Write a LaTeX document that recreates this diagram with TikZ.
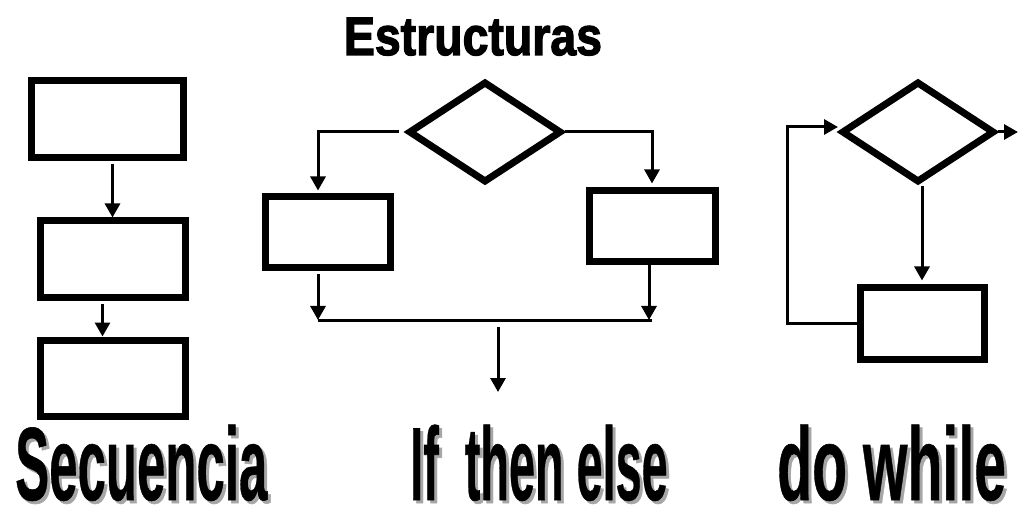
\documentclass[tikz,border=0pt]{standalone}
\usepackage{fontspec}
\setmainfont{Liberation Sans}
\newfontfamily\heavyfont[FakeBold=2.5]{Liberation Sans Bold}
\newfontfamily\lblheavy[FakeBold=0.6]{Liberation Sans Bold}
\usetikzlibrary{shapes.geometric,arrows.meta}
\newcommand{\headfont}{\heavyfont\fontsize{54}{58}\selectfont}
\newcommand{\lblfont}{\lblheavy\fontsize{104}{110}\selectfont}
\begin{document}
\begin{tikzpicture}[x=1pt, y=-1pt,
		block/.style={draw=black, line width=7pt, minimum width=#1, minimum height=71pt, inner sep=0pt},
		decision/.style={diamond, draw=black, line width=7pt, minimum width=153pt, minimum height=101pt, inner sep=0pt},
		arr/.style={draw=black, line width=3pt, -{Triangle[length=14pt,width=15pt]}},
		link/.style={draw=black, line width=3pt},
		lbl/.style={black, anchor=base west, inner sep=0pt, text depth=0pt, font=\lblfont},
		lblshadow/.style={lbl, text=black!35}]
		\useasboundingbox (0,0) rectangle (1019,510);
		\node[black, anchor=base, inner sep=0pt, font=\headfont] (title) at (473,55) {\scalebox{0.86}[1]{Estructuras}};
		\node[block=152pt, minimum height=77pt] (seq1) at (107,119.5) {};
		\node[block=145pt, minimum height=77pt] (seq2) at (112.5,259.5) {};
		\node[block=145pt, minimum height=76pt] (seq3) at (112.5,378) {};
		\draw[arr, shorten <=3pt] (seq1.south -| seq2.north) -- (seq2.north);
		\draw[arr, shorten <=3pt] ([xshift=-10pt]seq2.south) -- ([xshift=-10pt]seq3.north);
		\node[decision] (ite) at (485,132) {};
		\node[block=125pt] (opta) at (327.5,232.5) {};
		\node[block=126pt] (optb) at (652,226.5) {};
		\coordinate (merge) at (485,320);
		\coordinate (exit) at (498,392);
		\draw[arr] ([xshift=-6pt]ite.west) -| ([xshift=-9.5pt,yshift=3pt]opta.north);
		\draw[arr] (ite.east) -| ([yshift=4pt]optb.north);
		\draw[arr, shorten <=3pt] ([xshift=-9.5pt]opta.south) -- ([xshift=-9.5pt]opta.south |- merge);
		\draw[arr] ([xshift=-3pt]optb.south) -- ([xshift=-3pt]optb.south |- merge);
		\draw[link] ([xshift=-9.5pt]opta.south |- merge) -- (optb.south |- merge);
		\draw[arr] ([yshift=-7pt]merge -| exit) -- (exit);
		\node[decision] (cond) at (918,132) {};
		\node[block=124pt] (body) at (922,323.5) {};
		\coordinate (out) at (1018,132);
		\draw[arr] (cond.east) -- (out);
		\draw[arr, shorten >=4pt] (body.north |- cond.south) -- (body.north);
		\draw[arr] (body.west) -- ++(-69,0) |- ([yshift=5pt]cond.west);
		\node[lblshadow] (seqsh) at (18,503) {\scalebox{0.49}[1]{Secuencia}};
		\node[lbl] (seqlbl) at (15,500) {\scalebox{0.49}[1]{Secuencia}};
		\node[lblshadow] (itesh) at (413,503) {\scalebox{0.45}[1]{If\ \ then else}};
		\node[lbl] (itelbl) at (410,500) {\scalebox{0.45}[1]{If\ \ then else}};
		\node[lblshadow] (dwsh) at (780,503) {\scalebox{0.55}[1]{do while}};
		\node[lbl] (dwlbl) at (777,500) {\scalebox{0.55}[1]{do while}};
	\end{tikzpicture}
\end{document}
